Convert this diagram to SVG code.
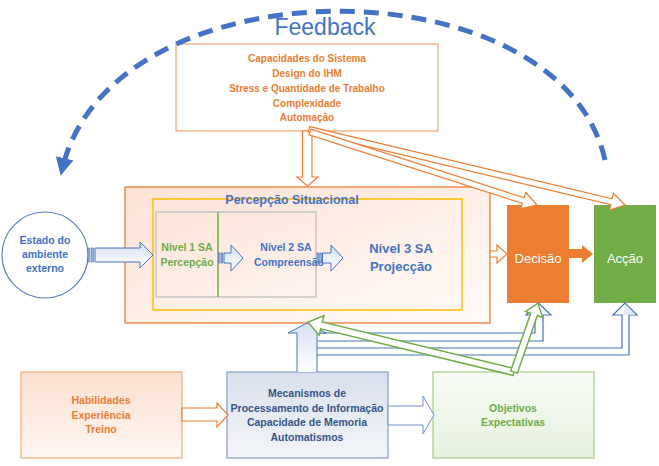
<svg xmlns="http://www.w3.org/2000/svg" width="659" height="466" viewBox="0 0 659 466">
<defs>
  <linearGradient id="gPink" x1="0" y1="0" x2="1" y2="1">
    <stop offset="0" stop-color="#FCE2D5"/>
    <stop offset="1" stop-color="#FFFAF8"/>
  </linearGradient>
  <linearGradient id="gHab" x1="0" y1="0" x2="0" y2="1">
    <stop offset="0" stop-color="#FBE0D0"/>
    <stop offset="1" stop-color="#FFF6F1"/>
  </linearGradient>
  <linearGradient id="gMec" x1="0" y1="0" x2="0" y2="1">
    <stop offset="0" stop-color="#D9E0EC"/>
    <stop offset="1" stop-color="#F3F5F9"/>
  </linearGradient>
  <linearGradient id="gObj" x1="0" y1="0" x2="0" y2="1">
    <stop offset="0" stop-color="#F7FBF4"/>
    <stop offset="1" stop-color="#E6F1DE"/>
  </linearGradient>
  <linearGradient id="gBlue" x1="0" y1="0" x2="0" y2="1">
    <stop offset="0" stop-color="#D6E1F3"/>
    <stop offset="1" stop-color="#FFFFFF"/>
  </linearGradient>
  <marker id="fbHead" markerUnits="userSpaceOnUse" markerWidth="18" markerHeight="18" refX="12" refY="9" orient="auto">
    <path d="M0,0 L18,9 L0,18 Z" fill="#4472C4"/>
  </marker>
  <style>
    .t { font-family: "Liberation Sans", Arial, sans-serif; font-weight: bold; text-anchor: middle; }
    .or { fill: #ED7D31; }
    .bl { fill: #4472C4; }
    .gr { fill: #70AD47; }
    .mec { fill: #35558C; }
    .wh { fill: #FFFFFF; font-weight: normal; font-size: 13px; }
    .blArrow { fill: url(#gBlue); stroke: #4472C4; stroke-width: 1; }
    .stripe { fill: #9DB5E0; stroke: #4472C4; stroke-width: 0.6; }
    .orArrow { fill: #FFFFFF; stroke: #ED7D31; stroke-width: 1.2; }
    .grArrow { fill: #FFFFFF; stroke: #70AD47; stroke-width: 1.5; }
  </style>
</defs>

<rect width="659" height="466" fill="#FFFFFF"/>

<!-- Percepção Situacional container -->
<g id="percepcao-situacional">
  <rect x="125" y="187" width="365" height="136" fill="url(#gPink)" stroke="#ED7D31" stroke-width="1.3"/>
  <rect x="153" y="199" width="309" height="111" fill="none" stroke="#FFC000" stroke-width="1.5"/>
  <text class="t bl" x="292" y="204" font-size="12.5">Percepção Situacional</text>
</g>

<g id="nivel-1-2">
  <rect x="156" y="212" width="160" height="85" fill="none" stroke="#BFBFBF" stroke-width="1.3"/>
  <line x1="218" y1="212" x2="218" y2="297" stroke="#70AD47" stroke-width="1.5"/>
  <text class="t gr" x="187" y="251" font-size="10.5">Nivel 1 SA</text>
  <text class="t gr" x="187" y="266" font-size="10.5">Percepção</text>
  <text class="t bl" x="286" y="251" font-size="10.5">Nível 2 SA</text>
  <text class="t bl" x="289" y="266" font-size="10.5">Compreensão</text>
</g>

<g id="nivel-3">
  <text class="t bl" x="401" y="253" font-size="13">Nível 3 SA</text>
  <text class="t bl" x="401" y="271" font-size="13">Projecção</text>
</g>

<g id="estado-ambiente">
  <circle cx="45" cy="255" r="43" fill="#FFFFFF" stroke="#5B80C6" stroke-width="1.2"/>
  <text class="t bl" x="45" y="244" font-size="10.5">Estado do</text>
  <text class="t bl" x="45" y="258" font-size="10.5">ambiente</text>
  <text class="t bl" x="45" y="272" font-size="10.5">externo</text>
</g>

<g id="capacidades">
  <rect x="176" y="44" width="262" height="87" fill="#FFFFFF" stroke="#F4A87A" stroke-width="1.3"/>
  <text class="t or" x="307" y="62" font-size="10">Capacidades do Sistema</text>
  <text class="t or" x="307" y="77" font-size="10">Design do IHM</text>
  <text class="t or" x="307" y="92" font-size="10">Stress e Quantidade de Trabalho</text>
  <text class="t or" x="307" y="107" font-size="10">Complexidade</text>
  <text class="t or" x="307" y="121" font-size="10">Automação</text>
</g>

<g id="decisao">
  <rect x="507" y="205" width="62" height="98" fill="#ED7D31"/>
  <text class="t wh" x="538" y="263">Decisão</text>
</g>

<g id="accao">
  <rect x="594" y="205" width="62" height="98" fill="#70AD47"/>
  <text class="t wh" x="625" y="263">Acção</text>
</g>

<g id="habilidades">
  <rect x="21" y="372" width="161" height="86" fill="url(#gHab)" stroke="#F4B183" stroke-width="1.3"/>
  <text class="t or" x="101" y="404" font-size="10.5">Habilidades</text>
  <text class="t or" x="101" y="419" font-size="10.5">Experiência</text>
  <text class="t or" x="101" y="433" font-size="10.5">Treino</text>
</g>

<g id="mecanismos">
  <rect x="227" y="372" width="161" height="86" fill="url(#gMec)" stroke="#8EA5CC" stroke-width="1.3"/>
  <text class="t mec" x="307" y="397" font-size="10.5">Mecanismos de</text>
  <text class="t mec" x="307" y="412" font-size="10.5">Processamento de Informação</text>
  <text class="t mec" x="307" y="426" font-size="10.5">Capacidade de Memoria</text>
  <text class="t mec" x="307" y="441" font-size="10.5">Automatismos</text>
</g>

<g id="objetivos">
  <rect x="433" y="372" width="161" height="86" fill="url(#gObj)" stroke="#A9D18E" stroke-width="1.3"/>
  <text class="t gr" x="513" y="412" font-size="10.5">Objetivos</text>
  <text class="t gr" x="513" y="426" font-size="10.5">Expectativas</text>
</g>

<g id="connectors">
  <!-- Estado -> Nivel 1 -->
  <rect class="stripe" x="88" y="248" width="2" height="14"/>
  <rect class="stripe" x="91.5" y="248" width="2" height="14"/>
  <path class="blArrow" d="M95,248 H140 V242 L153,255 L140,268 V262 H95 Z"/>
  <!-- Nivel 1 -> Nivel 2 -->
  <rect class="stripe" x="218.5" y="253" width="1.6" height="10"/>
  <rect class="stripe" x="221.3" y="253" width="1.6" height="10"/>
  <path class="blArrow" d="M224,253 H231 V245 L243,258 L231,271 V263 H224 Z"/>
  <!-- Nivel 2 -> Nivel 3 -->
  <rect class="stripe" x="317" y="253" width="1.6" height="10"/>
  <rect class="stripe" x="319.8" y="253" width="1.6" height="10"/>
  <path class="blArrow" d="M322.5,253 H331 V245 L343,258 L331,271 V263 H322.5 Z"/>

  <!-- Percepção -> Decisão -->
  <path class="orArrow" d="M490,251 H497 V245 L507,254 L497,263 V257 H490 Z"/>
  <!-- Decisão -> Acção -->
  <path d="M569,249 H582 V245 L593,254 L582,263 V258 H569 Z" fill="#ED7D31"/>

  <!-- Capacidades -> Percepção -->
  <path class="orArrow" d="M302.5,131 H312 V177 H318 L307.5,186 L297,177 H302.5 Z"/>
  <!-- Capacidades -> Acção -->
  <path class="orArrow" transform="translate(309,129.5) rotate(13.44)" d="M0,-3 H311 V-8.5 L325,0 L311,8.5 V3 H0 Z"/>
  <!-- Capacidades -> Decisão -->
  <path class="orArrow" transform="translate(310,132) rotate(17.83)" d="M0,-3 H224 V-8.5 L238.4,0 L224,8.5 V3 H0 Z"/>

  <!-- Habilidades -> Mecanismos -->
  <path class="orArrow" d="M182,408 H217 V403 L228,415 L217,427 V421 H182 Z" stroke="#F4B183"/>
  <!-- Mecanismos -> Objetivos -->
  <path d="M388,406 H423 V396 L434,415 L423,434 V425 H388 Z" fill="#FFFFFF" stroke="#6F8FCF" stroke-width="1"/>

  <!-- Mecanismos -> Acção band -->
  <path d="M317,348 H622 V315 H613 L625,303 L637,315 H629 V355 H317" fill="#FFFFFF" stroke="#4472C4" stroke-width="1.2"/>
  <path d="M623,315 L625,304.5 L635,314.5 Z" fill="#E3EAF6"/>
  <!-- Mecanismos -> Decisão band -->
  <path d="M317,333 H535 V315 H526 L538.5,303 L551,315 H543 V341 H317" fill="#FFFFFF" stroke="#4472C4" stroke-width="1.2"/>
  <!-- Mecanismos -> Percepção -->
  <path class="blArrow" d="M297,372 V333 H288 L307,323 L326,333 H317 V372" stroke-width="1.2"/>

  <!-- Objetivos -> Percepção -->
  <path class="grArrow" transform="translate(514,372) rotate(193.6)" d="M0,-3.5 H198 V-10 L212,0 L198,10 V3.5 H0 Z"/>
  <!-- Objetivos -> Decisão -->
  <path class="grArrow" transform="translate(514,372) rotate(-70.8)" d="M0,-3.5 H61 V-9 L73,0 L61,9 V3.5 H0 Z"/>

  <!-- Feedback -->
  <path d="M605,160 C560,-40 110,-40 62,170" fill="none" stroke="#4472C4" stroke-width="5" stroke-dasharray="15 9" marker-end="url(#fbHead)"/>
</g>

<g id="feedback-label">
  <text x="325" y="35" font-family="Liberation Sans, Arial, sans-serif" font-size="23" fill="#4472C4" text-anchor="middle">Feedback</text>
</g>
</svg>
